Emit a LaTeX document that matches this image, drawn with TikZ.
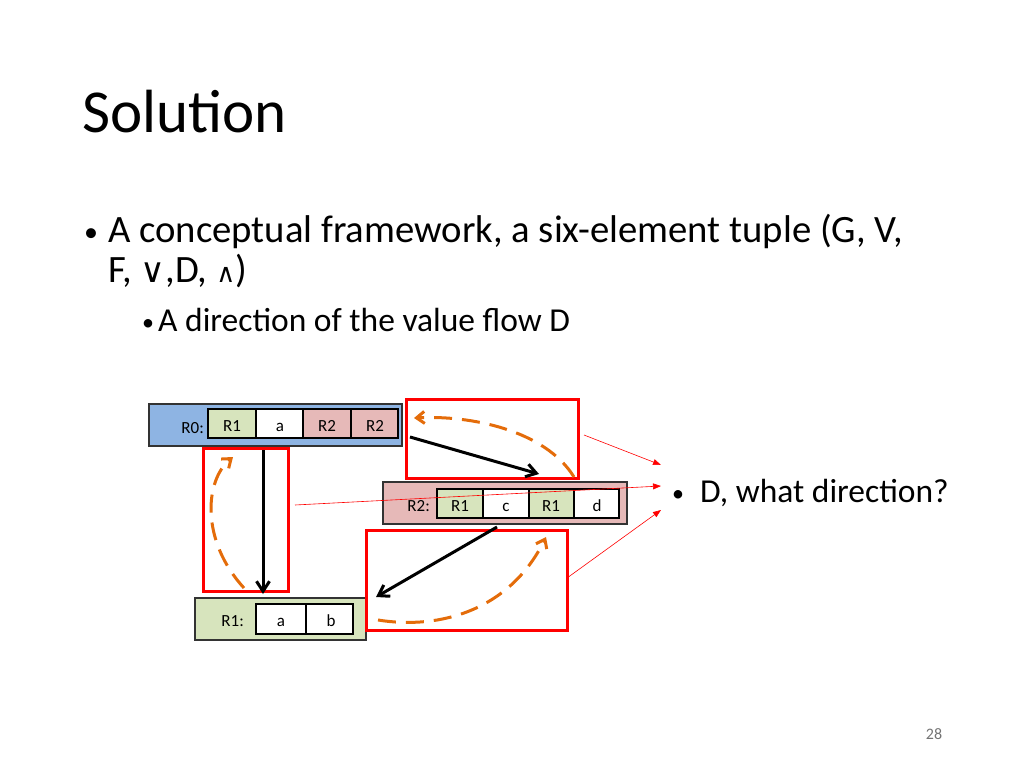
\documentclass[tikz,border=0pt]{standalone}
\usepackage{fontspec}
\setmainfont{Carlito}
\newfontfamily\sym{DejaVu Sans}
\usetikzlibrary{arrows.meta}
\definecolor{blu}{HTML}{8EB4E3}
\definecolor{pnk}{HTML}{E6B9B8}
\definecolor{grn}{HTML}{D7E4BD}
\definecolor{org}{HTML}{E46C0A}
\tikzset{
 outer/.style={draw=black!80,line width=2pt},
 cell/.style={draw=black,line width=1.5pt},
 hl/.style={draw=red,line width=3pt},
 blk/.style={line width=3pt,-{Straight Barb[length=10pt,width=13pt]}},
 dsh/.style={draw=org,line width=3pt,dash pattern=on 18pt off 10pt,-{Straight Barb[length=8pt,width=12pt]}},
 thin/.style={draw=red,line width=0.6pt,-{Triangle[length=8pt,width=6pt]}},
 lab/.style={font=\fontsize{17}{20}\selectfont,inner sep=0pt,anchor=base},
 bul/.style={anchor=base west,inner sep=0pt},
}
\begin{document}
\begin{tikzpicture}[x=1pt,y=-1pt]
\useasboundingbox (0,0) rectangle (1024,768);
\node[bul,font=\fontsize{61}{70}\selectfont] (title) at (82,132) {Solution};
\node[bul,font=\fontsize{28}{38}\selectfont] (b1) at (84,241) {•};
\node[bul,font=\fontsize{38.7}{46}\selectfont] (t1) at (108,242) {A conceptual framework, a six-element tuple (G, V,};
\node[bul,font=\fontsize{38.7}{46}\selectfont] (t2) at (108,282) {F, {\sym\fontsize{34}{36}\selectfont ∨},D, {\sym\fontsize{26}{26}\selectfont ∧})};
\node[bul,font=\fontsize{24}{30}\selectfont] (b2) at (142,330) {•};
\node[bul,font=\fontsize{33.5}{40}\selectfont] (t3) at (158,331) {A direction of the value flow D};
\node[bul,font=\fontsize{24}{30}\selectfont] (b3) at (672,501) {•};
\node[bul,font=\fontsize{33.5}{40}\selectfont] (t4) at (700,502) {D, what direction?};
\node[anchor=base,inner sep=0pt,font=\fontsize{16}{18}\selectfont,text=black!55] (pg) at (934,739) {28};
% R0
\draw[outer,fill=blu] (149,404) rectangle (402,446);
\node[lab,anchor=base east] (r0) at (204,433) {R0:};
\draw[cell,fill=grn] (208,409) rectangle (256,438); \node[lab] (r0a) at (232,431) {R1};
\draw[cell,fill=white] (256,409) rectangle (303,438); \node[lab] (r0b) at (280,431) {a};
\draw[cell,fill=pnk] (303,409) rectangle (351,438); \node[lab] (r0c) at (327,431) {R2};
\draw[cell,fill=pnk] (351,409) rectangle (398,438); \node[lab] (r0d) at (375,431) {R2};
% R2
\draw[outer,fill=pnk] (383,482) rectangle (627,524);
\node[lab,anchor=base east] (r2) at (430,511) {R2:};
\draw[cell,fill=grn] (437,489) rectangle (483,518); \node[lab] (r2a) at (460,511) {R1};
\draw[cell,fill=white] (483,489) rectangle (529,518); \node[lab] (r2b) at (506,511) {c};
\draw[cell,fill=grn] (529,489) rectangle (574,518); \node[lab] (r2c) at (551,511) {R1};
\draw[cell,fill=white] (574,489) rectangle (619,518); \node[lab] (r2d) at (597,511) {d};
% R1
\draw[outer,fill=grn] (195,598) rectangle (366,640);
\node[lab,anchor=base east] (r1) at (244,626) {R1:};
\draw[cell,fill=white] (256,604) rectangle (306,634); \node[lab] (r1a) at (281,626) {a};
\draw[cell,fill=white] (306,604) rectangle (353,634); \node[lab] (r1b) at (331,626) {b};
% highlight boxes
\draw[hl] (406,399) rectangle (578,478);
\draw[hl] (203,448) rectangle (288,591);
\draw[hl] (366,530) rectangle (567,630);
% coordinates
\coordinate (a1s) at (263,450); \coordinate (a1e) at (263,594);
\coordinate (a2s) at (410,437); \coordinate (a2e) at (539,474);
\coordinate (a3s) at (497,527); \coordinate (a3e) at (376,597);
\draw[blk] (a1s) -- (a1e);
\draw[blk] (a2s) -- (a2e);
\draw[blk] (a3s) -- (a3e);
\coordinate (o1s) at (244,588); \coordinate (o1e) at (233,457);
\coordinate (o2s) at (574,477); \coordinate (o2e) at (414,418);
\coordinate (o3s) at (378,620); \coordinate (o3e) at (546,537);
\draw[dsh] (o1s) .. controls (200,540) and (205,480) .. (o1e);
\draw[dsh] (o2s) .. controls (545,430) and (470,415) .. (o2e);
\draw[dsh] (o3s) .. controls (440,630) and (510,610) .. (o3e);
\coordinate (t1s) at (584,435); \coordinate (t2s) at (295,505); \coordinate (t3s) at (567,578);
\coordinate (te1) at (661,465); \coordinate (te2) at (661,486); \coordinate (te3) at (661,510);
\draw[thin] (t1s) -- (te1);
\draw[thin] (t2s) -- (te2);
\draw[thin] (t3s) -- (te3);
\end{tikzpicture}
\end{document}
